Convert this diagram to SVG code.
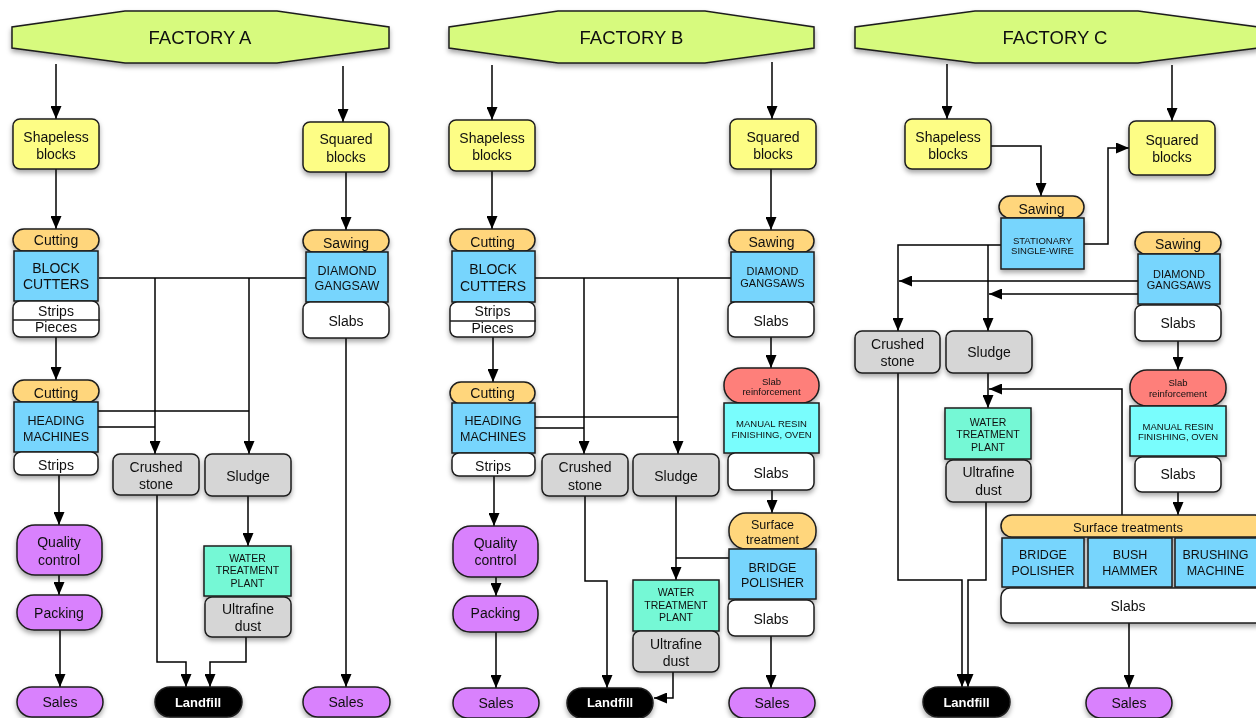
<svg xmlns="http://www.w3.org/2000/svg" width="1256" height="718" viewBox="0 0 1256 718">
<defs>
<style>
.n{stroke:#1e1e1e;stroke-width:1.5}
.hdr{fill:#d7fa7e}.yel{fill:#fdfd85}.org{fill:#ffd67b}.blu{fill:#77d5fd}.wht{fill:#fff}.gry{fill:#d6d6d6}.pur{fill:#d981fd}.mnt{fill:#75f8d5}.cyn{fill:#79fdfd}.red{fill:#fe7f7a}.blk{fill:#000}
text{font-family:"Liberation Sans",Arial,Helvetica,sans-serif;font-size:14px;fill:#111;text-anchor:middle}
.h{font-size:18.5px}
.s125{font-size:12.5px}
.s11{font-size:11px}
.s105{font-size:10.5px}
.s95{font-size:9.5px}
.s13{font-size:13px}
.lf{fill:#fff;font-weight:bold;font-size:13px}
.c{stroke:#000;stroke-width:1.5;fill:none}
.a{marker-end:url(#ah)}
.sh{filter:url(#ds)}
</style>
<marker id="ah" viewBox="0 0 13 11" refX="13" refY="5.5" markerWidth="13" markerHeight="11" markerUnits="userSpaceOnUse" orient="auto"><path d="M0,0 L13,5.5 L0,11 z" fill="#000"/></marker>
<filter id="ds" x="-20%" y="-20%" width="140%" height="150%"><feDropShadow dx="0" dy="3" stdDeviation="2.5" flood-color="#000" flood-opacity="0.35"/></filter>
</defs>

<g id="connectors">
<!-- Factory A -->
<path class="c a" d="M56 64 V119"/>
<path class="c a" d="M343 66 V122"/>
<path class="c a" d="M56 169 V229"/>
<path class="c a" d="M346 172 V230"/>
<path class="c a" d="M56 337 V380"/>
<path class="c a" d="M59 475 V525"/>
<path class="c a" d="M59 575 V595"/>
<path class="c a" d="M60 630 V687"/>
<path class="c" d="M99 278 H306"/>
<path class="c a" d="M155 278 V454"/>
<path class="c a" d="M249 278 V454"/>
<path class="c" d="M98 411 H249"/>
<path class="c" d="M98 427 H155"/>
<path class="c a" d="M346 338 V687"/>
<path class="c a" d="M157 495 V662 H186 V687"/>
<path class="c a" d="M248 496 V546"/>
<path class="c a" d="M246 637 V662 H210 V687"/>
<!-- Factory B -->
<path class="c a" d="M492 65 V120"/>
<path class="c a" d="M772 62 V119"/>
<path class="c a" d="M492 171 V229"/>
<path class="c a" d="M771 169 V230"/>
<path class="c a" d="M493 337 V382"/>
<path class="c a" d="M494 476 V526"/>
<path class="c a" d="M496 577 V596"/>
<path class="c a" d="M496 632 V688"/>
<path class="c" d="M535 278 H731"/>
<path class="c a" d="M584 278 V454"/>
<path class="c a" d="M678 278 V454"/>
<path class="c" d="M535 417 H678"/>
<path class="c" d="M535 428 H584"/>
<path class="c a" d="M771 337 V368"/>
<path class="c a" d="M772 490 V513"/>
<path class="c a" d="M771 636 V688"/>
<path class="c a" d="M676 496 V580"/>
<path class="c" d="M729 558 H676"/>
<path class="c a" d="M585 496 V581 H607 V688"/>
<path class="c a" d="M673 672 V698 H654"/>
<!-- Factory C -->
<path class="c a" d="M947 64 V119"/>
<path class="c a" d="M1172 65 V121"/>
<path class="c a" d="M991 146 H1041 V196"/>
<path class="c a" d="M1084 244 H1108 V148 H1129"/>
<path class="c a" d="M1001 245 H898 V331"/>
<path class="c a" d="M988 245 V331"/>
<path class="c a" d="M1138 281 H899"/>
<path class="c a" d="M1138 294 H989"/>
<path class="c a" d="M1178 341 V370"/>
<path class="c a" d="M1178 492 V515"/>
<path class="c a" d="M1129 623 V688"/>
<path class="c a" d="M988 373 V408"/>
<path class="c a" d="M1122 515 V389 H989"/>
<path class="c a" d="M898 373 V580 H962 V687"/>
<path class="c a" d="M986 502 V580 H968 V687"/>
</g>

<!-- ===== Factory A ===== -->
<g id="factoryA" class="sh"><polygon class="n hdr" points="125,11 277,11 389,27 389,48 277,63 125,63 12,48 12,27"/><text class="h" x="200" y="44">FACTORY A</text></g>
<g id="A-shapeless" class="sh"><rect class="n yel" x="13" y="119" width="86" height="50" rx="7"/><text x="56" y="141.5">Shapeless</text><text x="56" y="159">blocks</text></g>
<g id="A-squared" class="sh"><rect class="n yel" x="303" y="122" width="86" height="50" rx="7"/><text x="346" y="144">Squared</text><text x="346" y="161.5">blocks</text></g>
<g id="A-blockcutters" class="sh">
<rect class="n org" x="13" y="229" width="86" height="22" rx="11"/><text x="56" y="245">Cutting</text>
<rect class="n blu" x="14" y="251" width="84" height="50"/><text x="56" y="272.5">BLOCK</text><text x="56" y="289">CUTTERS</text>
<rect class="n wht" x="13" y="301" width="86" height="36" rx="7"/><line class="n" x1="13" y1="320" x2="100" y2="320"/><text x="56" y="315.5">Strips</text><text x="56" y="332">Pieces</text>
</g>
<g id="A-heading" class="sh">
<rect class="n org" x="13" y="380" width="86" height="22" rx="11"/><text x="56" y="398">Cutting</text>
<rect class="n blu" x="14" y="402" width="84" height="50"/><text class="s125" x="56" y="424.5">HEADING</text><text class="s125" x="56" y="440.5">MACHINES</text>
<rect class="n wht" x="14" y="452" width="84" height="23" rx="7"/><text x="56" y="470">Strips</text>
</g>
<g id="A-quality" class="sh"><rect class="n pur" x="17" y="525" width="85" height="50" rx="18"/><text x="59" y="547">Quality</text><text x="59" y="565">control</text></g>
<g id="A-packing" class="sh"><rect class="n pur" x="17" y="595" width="85" height="35" rx="17"/><text x="59" y="618">Packing</text></g>
<g id="A-sales1" class="sh"><rect class="n pur" x="17" y="687" width="86" height="30" rx="15"/><text x="60" y="707">Sales</text></g>
<g id="A-landfill" class="sh"><rect class="n blk" x="155" y="687" width="87" height="30" rx="15"/><text class="lf" x="198" y="706.5">Landfill</text></g>
<g id="A-sales2" class="sh"><rect class="n pur" x="303" y="687" width="87" height="30" rx="15"/><text x="346" y="707">Sales</text></g>
<g id="A-crushed" class="sh"><rect class="n gry" x="113" y="454" width="86" height="41" rx="7"/><text x="156" y="472">Crushed</text><text x="156" y="489">stone</text></g>
<g id="A-sludge" class="sh"><rect class="n gry" x="205" y="454" width="86" height="42" rx="7"/><text x="248" y="481">Sludge</text></g>
<g id="A-water" class="sh">
<rect class="n mnt" x="204" y="546" width="87" height="50"/><text class="s105" x="247.5" y="561.5">WATER</text><text class="s105" x="247.5" y="574">TREATMENT</text><text class="s105" x="247.5" y="586.5">PLANT</text>
<rect class="n gry" x="205" y="597" width="86" height="40" rx="7"/><text x="248" y="614">Ultrafine</text><text x="248" y="631">dust</text>
</g>
<g id="A-gangsaw" class="sh">
<rect class="n org" x="303" y="230" width="86" height="22" rx="11"/><text x="346" y="247.5">Sawing</text>
<rect class="n blu" x="306" y="252" width="82" height="50"/><text class="s125" x="347" y="274.5">DIAMOND</text><text class="s125" x="347" y="290">GANGSAW</text>
<rect class="n wht" x="303" y="302" width="86" height="36" rx="7"/><text x="346" y="325.5">Slabs</text>
</g>

<!-- ===== Factory B ===== -->
<g id="factoryB" class="sh"><polygon class="n hdr" points="558,11 705,11 814,27 814,48 705,63 558,63 449,48 449,27"/><text class="h" x="631.5" y="44">FACTORY B</text></g>
<g id="B-shapeless" class="sh"><rect class="n yel" x="449" y="120" width="86" height="51" rx="7"/><text x="492" y="142.5">Shapeless</text><text x="492" y="160">blocks</text></g>
<g id="B-squared" class="sh"><rect class="n yel" x="730" y="119" width="86" height="50" rx="7"/><text x="773" y="141.5">Squared</text><text x="773" y="159">blocks</text></g>
<g id="B-blockcutters" class="sh">
<rect class="n org" x="450" y="229" width="85" height="22" rx="11"/><text x="492.5" y="246.5">Cutting</text>
<rect class="n blu" x="452" y="251" width="83" height="51"/><text x="493" y="274">BLOCK</text><text x="493" y="290.5">CUTTERS</text>
<rect class="n wht" x="450" y="302" width="85" height="35" rx="7"/><line class="n" x1="450" y1="321" x2="536" y2="321"/><text x="492.5" y="316">Strips</text><text x="492.5" y="333">Pieces</text>
</g>
<g id="B-heading" class="sh">
<rect class="n org" x="450" y="382" width="85" height="22" rx="11"/><text x="492.5" y="398">Cutting</text>
<rect class="n blu" x="452" y="403" width="83" height="50"/><text class="s125" x="493" y="425">HEADING</text><text class="s125" x="493" y="440.5">MACHINES</text>
<rect class="n wht" x="452" y="453" width="83" height="23" rx="7"/><text x="493" y="470.5">Strips</text>
</g>
<g id="B-quality" class="sh"><rect class="n pur" x="453" y="526" width="85" height="51" rx="18"/><text x="495.5" y="548">Quality</text><text x="495.5" y="565">control</text></g>
<g id="B-packing" class="sh"><rect class="n pur" x="453" y="596" width="85" height="36" rx="17"/><text x="495.5" y="618">Packing</text></g>
<g id="B-sales1" class="sh"><rect class="n pur" x="453" y="688" width="86" height="30" rx="15"/><text x="496" y="708">Sales</text></g>
<g id="B-crushed" class="sh"><rect class="n gry" x="542" y="454" width="86" height="42" rx="7"/><text x="585" y="472">Crushed</text><text x="585" y="489.5">stone</text></g>
<g id="B-sludge" class="sh"><rect class="n gry" x="633" y="454" width="86" height="42" rx="7"/><text x="676" y="481">Sludge</text></g>
<g id="B-gangsaws" class="sh">
<rect class="n org" x="729" y="230" width="85" height="22" rx="11"/><text x="771.5" y="247">Sawing</text>
<rect class="n blu" x="731" y="252" width="83" height="50"/><text class="s11" x="772.5" y="274.5">DIAMOND</text><text class="s11" x="772.5" y="286.5">GANGSAWS</text>
<rect class="n wht" x="728" y="302" width="86" height="35" rx="7"/><text x="771" y="325.5">Slabs</text>
</g>
<g id="B-reinforcement" class="sh">
<rect class="n red" x="724" y="368" width="95" height="35" rx="17"/><text class="s95" x="771.5" y="384.5">Slab</text><text class="s95" x="771.5" y="395">reinforcement</text>
<rect class="n cyn" x="724" y="403" width="95" height="50"/><text class="s95" x="771.5" y="427">MANUAL RESIN</text><text class="s95" x="771.5" y="438">FINISHING, OVEN</text>
<rect class="n wht" x="728" y="453" width="86" height="37" rx="7"/><text x="771" y="477.5">Slabs</text>
</g>
<g id="B-surface" class="sh">
<rect class="n org" x="729" y="513" width="87" height="36" rx="17"/><text class="s125" x="772.5" y="528.5">Surface</text><text class="s125" x="772.5" y="543.5">treatment</text>
<rect class="n blu" x="729" y="549" width="87" height="50"/><text class="s125" x="772.5" y="572">BRIDGE</text><text class="s125" x="772.5" y="587">POLISHER</text>
<rect class="n wht" x="728" y="600" width="86" height="36" rx="7"/><text x="771" y="623.5">Slabs</text>
</g>
<g id="B-sales2" class="sh"><rect class="n pur" x="729" y="688" width="86" height="30" rx="15"/><text x="772" y="708">Sales</text></g>
<g id="B-water" class="sh">
<rect class="n mnt" x="633" y="580" width="86" height="51"/><text class="s105" x="676" y="596">WATER</text><text class="s105" x="676" y="608.5">TREATMENT</text><text class="s105" x="676" y="620.5">PLANT</text>
<rect class="n gry" x="633" y="631" width="86" height="41" rx="7"/><text x="676" y="648.5">Ultrafine</text><text x="676" y="665.5">dust</text>
</g>
<g id="B-landfill" class="sh"><rect class="n blk" x="567" y="688" width="86" height="30" rx="15"/><text class="lf" x="610" y="707">Landfill</text></g>

<!-- ===== Factory C ===== -->
<g id="factoryC" class="sh"><polygon class="n hdr" points="975,11 1138,11 1258,27 1258,48 1138,63 975,63 855,48 855,27"/><text class="h" x="1055" y="44">FACTORY C</text></g>
<g id="C-shapeless" class="sh"><rect class="n yel" x="905" y="119" width="86" height="50" rx="7"/><text x="948" y="141.5">Shapeless</text><text x="948" y="159">blocks</text></g>
<g id="C-squared" class="sh"><rect class="n yel" x="1129" y="121" width="86" height="54" rx="7"/><text x="1172" y="145">Squared</text><text x="1172" y="161.5">blocks</text></g>
<g id="C-singlewire" class="sh">
<rect class="n org" x="999" y="196" width="85" height="22" rx="11"/><text x="1041.5" y="214">Sawing</text>
<rect class="n blu" x="1001" y="218" width="83" height="51"/><text class="s95" x="1042.5" y="243.5">STATIONARY</text><text class="s95" x="1042.5" y="254">SINGLE-WIRE</text>
</g>
<g id="C-gangsaws" class="sh">
<rect class="n org" x="1135" y="232" width="86" height="22" rx="11"/><text x="1178" y="249">Sawing</text>
<rect class="n blu" x="1138" y="254" width="82" height="50"/><text class="s11" x="1179" y="277.5">DIAMOND</text><text class="s11" x="1179" y="289">GANGSAWS</text>
<rect class="n wht" x="1135" y="305" width="86" height="36" rx="7"/><text x="1178" y="328">Slabs</text>
</g>
<g id="C-crushed" class="sh"><rect class="n gry" x="855" y="331" width="85" height="42" rx="7"/><text x="897.5" y="349">Crushed</text><text x="897.5" y="366">stone</text></g>
<g id="C-sludge" class="sh"><rect class="n gry" x="946" y="331" width="86" height="42" rx="7"/><text x="989" y="357">Sludge</text></g>
<g id="C-reinforcement" class="sh">
<rect class="n red" x="1130" y="370" width="96" height="36" rx="17"/><text class="s95" x="1178" y="386">Slab</text><text class="s95" x="1178" y="397">reinforcement</text>
<rect class="n cyn" x="1130" y="406" width="96" height="50"/><text class="s95" x="1178" y="429.5">MANUAL RESIN</text><text class="s95" x="1178" y="440">FINISHING, OVEN</text>
<rect class="n wht" x="1135" y="457" width="86" height="35" rx="7"/><text x="1178" y="479">Slabs</text>
</g>
<g id="C-water" class="sh">
<rect class="n mnt" x="945" y="408" width="86" height="51"/><text class="s105" x="988" y="425.5">WATER</text><text class="s105" x="988" y="438">TREATMENT</text><text class="s105" x="988" y="450.5">PLANT</text>
<rect class="n gry" x="946" y="460" width="85" height="42" rx="7"/><text x="988.5" y="477">Ultrafine</text><text x="988.5" y="494.5">dust</text>
</g>
<g id="C-surface" class="sh">
<rect class="n org" x="1001" y="515" width="265" height="22" rx="11"/><text class="s13" x="1128" y="531.5">Surface treatments</text>
<rect class="n blu" x="1002" y="538" width="82" height="49"/><text class="s125" x="1043" y="559">BRIDGE</text><text class="s125" x="1043" y="574.5">POLISHER</text>
<rect class="n blu" x="1088" y="538" width="84" height="49"/><text class="s125" x="1130" y="559">BUSH</text><text class="s125" x="1130" y="574.5">HAMMER</text>
<rect class="n blu" x="1175" y="538" width="90" height="49"/><text class="s125" x="1215.5" y="559">BRUSHING</text><text class="s125" x="1215.5" y="574.5">MACHINE</text>
<rect class="n wht" x="1001" y="588" width="265" height="35" rx="9"/><text x="1128" y="611">Slabs</text>
</g>
<g id="C-sales" class="sh"><rect class="n pur" x="1086" y="688" width="86" height="30" rx="15"/><text x="1129" y="708">Sales</text></g>
<g id="C-landfill" class="sh"><rect class="n blk" x="923" y="687" width="87" height="30" rx="15"/><text class="lf" x="966.5" y="706.5">Landfill</text></g>
</svg>
